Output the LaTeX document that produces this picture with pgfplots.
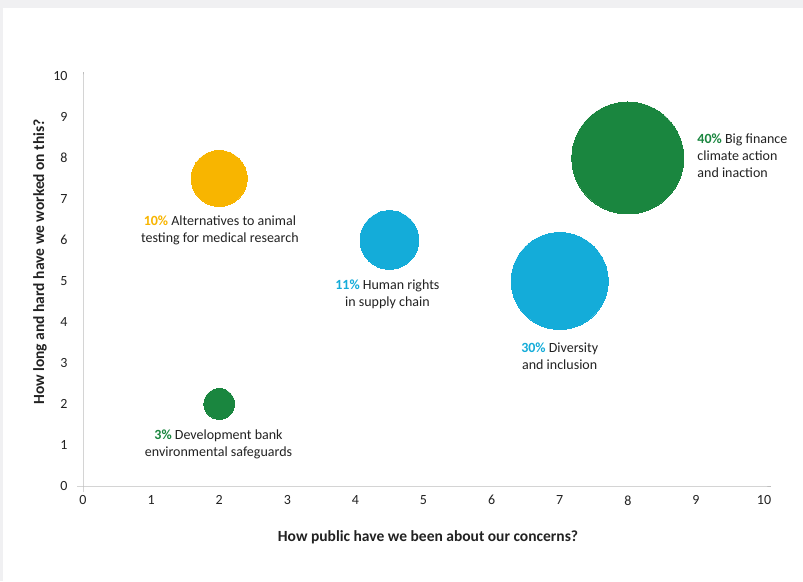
\documentclass[border=0pt]{standalone}
\usepackage{pgfplots}
\pgfplotsset{compat=1.18}
\usepackage{fontspec}
\setmainfont{Carlito}
\definecolor{bggrey}{HTML}{F0F0F2}
\definecolor{cgreen}{HTML}{1A863F}
\definecolor{cblue}{HTML}{14ACD9}
\definecolor{cyellow}{HTML}{F8B500}
\definecolor{axgrey}{HTML}{BDBDBD}
\definecolor{txt}{HTML}{222222}
\pgfplotstableread{
x y v
8 8 40
2 2 3
}\greendata
\pgfplotstableread{
x y v
4.5 6 11
7 5 30
}\bluedata
\pgfplotstableread{
x y v
2 7.5 10
}\yellowdata
\pgfplotsset{
  bubble/.style={
    scatter, only marks, mark=*,
    point meta=\thisrow{v},
    mark options={draw=#1, fill=#1, line width=0pt},
    scatter/use mapped color={draw=#1, fill=#1},
    visualization depends on={56*sqrt(\thisrow{v}/40) \as \rad},
    scatter/@pre marker code/.append style={/tikz/mark size=\rad},
  },
}
\begin{document}
\begin{tikzpicture}[x=1pt,y=1pt]
\fill[bggrey] (0,0) rectangle (803,581);
\fill[white] (3,0) rectangle (803,573);
\begin{axis}[
  at={(83pt,95pt)}, anchor=south west,
  width=681pt, height=410pt, scale only axis,
  xmin=0, xmax=10, ymin=0, ymax=10,
  axis lines=left, axis line style={draw=none,-},
  xtick={0,...,10}, ytick={0,...,10},
  major tick length=0pt,
  clip=false,
  /pgf/number format/assume math mode=true,
  ticklabel style={font=\fontsize{14}{15}\selectfont, text=txt},
  yticklabel style={xshift=-12pt},
  xticklabel style={yshift=-6pt},
]
\addplot[bubble=cgreen] table[x=x,y=y] {\greendata};
\addplot[bubble=cblue] table[x=x,y=y] {\bluedata};
\addplot[bubble=cyellow] table[x=x,y=y] {\yellowdata};
\draw[axgrey, line width=1pt] (axis cs:0,0) ++(0,-6pt) -- (axis cs:0,10) -- ++(0,4pt);
\draw[axgrey, line width=1pt] (axis cs:0,0) ++(-6pt,0) -- (axis cs:10,0) -- ++(7pt,0);
\begin{scope}[every node/.style={font=\fontsize{14}{17}\selectfont, text=txt, inner sep=0pt}]
\node[align=center] at (axis cs:2.01,6.24) {{\bfseries\color{cyellow}10\%} Alternatives to animal\\testing for medical research};
\node[align=center] at (axis cs:1.99,1.02) {{\bfseries\color{cgreen}3\%} Development bank\\environmental safeguards};
\node[align=center] at (axis cs:4.47,4.68) {{\bfseries\color{cblue}11\%} Human rights\\in supply chain};
\node[align=center] at (axis cs:7.0,3.17) {{\bfseries\color{cblue}30\%} Diversity\\and inclusion};
\node[align=left, anchor=west] at (axis cs:9.02,8.05) {{\bfseries\color{cgreen}40\%} Big finance\\climate action\\and inaction};
\end{scope}
\end{axis}
\node[font=\bfseries\fontsize{15.5}{18}\selectfont, text=txt] at (428,44) {How public have we been about our concerns?};
\node[font=\bfseries\fontsize{15.5}{18}\selectfont, text=txt, rotate=90] at (40,319) {How long and hard have we worked on this?};
\end{tikzpicture}
\end{document}
